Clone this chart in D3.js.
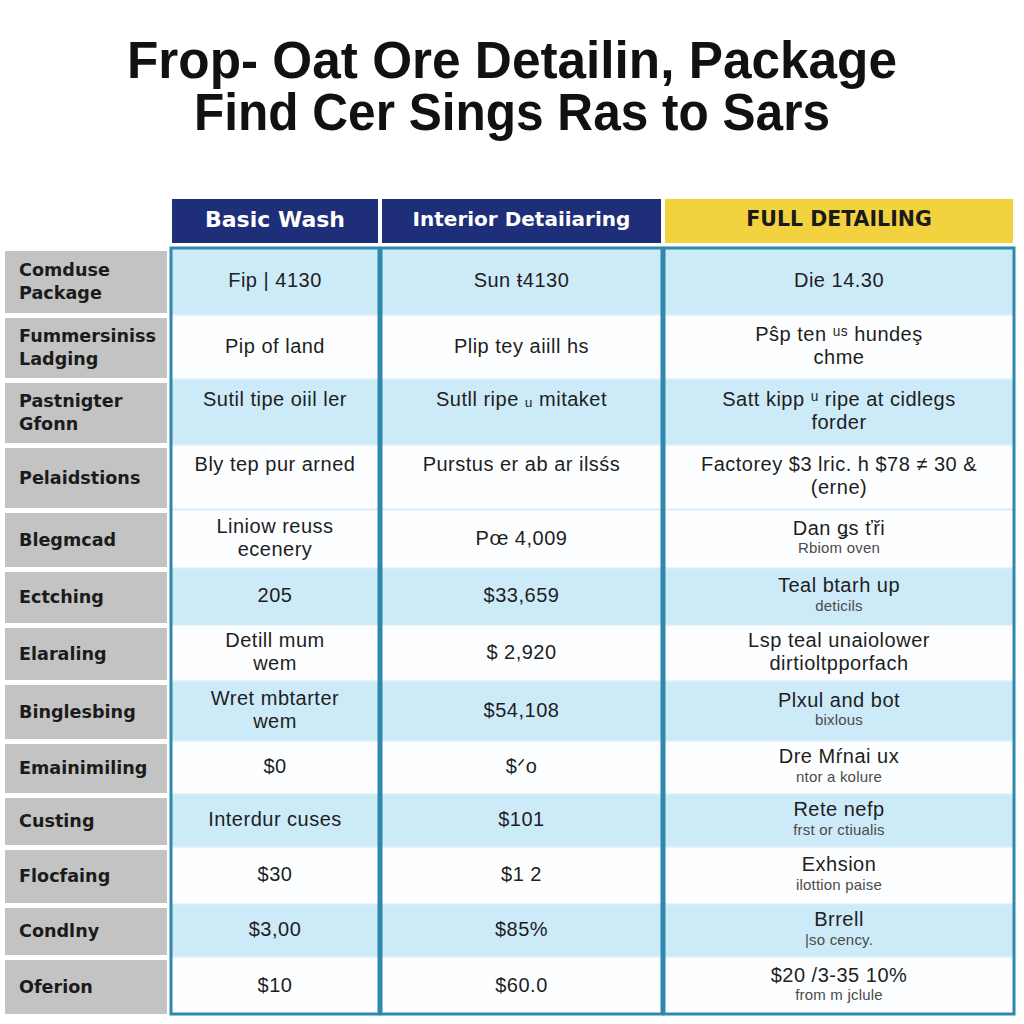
<!DOCTYPE html>
<html><head><meta charset="utf-8">
<script src="https://cdn.jsdelivr.net/npm/d3@7"></script>
<style>body{margin:0;background:#fff}svg{display:block}</style>
</head><body>
<svg id="chart" width="1024" height="1024"></svg>
<script>
// ---------- data ----------
const titleLines = ["Frop- Oat Ore Detailin, Package", "Find Cer Sings Ras to Sars"];
const packages = ["Basic Wash", "Interior Detaiiaring", "FULL DETAILING"];
const features = [
  ["Comduse", "Package"], ["Fummersiniss", "Ladging"], ["Pastnigter", "Gfonn"],
  ["Pelaidstions"], ["Blegmcad"], ["Ectching"], ["Elaraling"], ["Binglesbing"],
  ["Emainimiling"], ["Custing"], ["Flocfaing"], ["Condlny"], ["Oferion"]
];
const basicWash = [
  ["Fip | 4130"], ["Pip of land"], ["Sutil tipe oiil ler", ""], ["Bly tep pur arned", ""],
  ["Liniow reuss", "ecenery"], ["205"], ["Detill mum", "wem"], ["Wret mbtarter", "wem"],
  ["$0"], ["Interdur cuses"], ["$30"], ["$3,00"], ["$10"]
];
const interiorDetailing = [
  ["Sun ŧ4130"], ["Plip tey aiill hs"], ["Sutll ripe ᵤ mitaket", ""], ["Purstus er ab ar ilsśs", ""],
  ["Pœ 4,009"], ["$33,659"], ["$ 2,920"], ["$54,108"],
  ["$ᐟo"], ["$101"], ["$1 2"], ["$85%"], ["$60.0"]
];
const fullDetailing = [
  ["Die 14.30"], ["Pŝp ten ᵘˢ hundeş", "chme"], ["Satt kipp ᵘ ripe at cidlegs", "forder"],
  ["Factorey $3 lric. h $78 ≠ 30 &", "(erne)"], ["Dan ǥs ťři"], ["Teal btarh up"],
  ["Lsp teal unaiolower", "dirtioltpporfach"], ["Plxul and bot"], ["Dre Mŕnai ux"],
  ["Rete nefp"], ["Exhsion"], ["Brrell"], ["$20 /3-35 10%"]
];
const fullDetailingNotes = [
  "", "", "", "", "Rbiom oven", "deticils", "", "bixlous", "ntor a kolure",
  "frst or ctiualis", "ilottion paise", "|so cency.", "from m jclule"
];
const shadedRows = [true, false, true, false, false, true, false, true, false, true, false, true, false];

// ---------- layout ----------
const rowUnits = [67, 65, 65, 65, 59, 56, 57, 59, 54, 52, 58, 52, 59];
const colUnits = [210, 283, 352];
const svg = d3.select("#chart");

const cumRows = [0]; rowUnits.forEach(u => cumRows.push(cumRows[cumRows.length - 1] + u));
const y = d3.scaleLinear().domain([0, cumRows[cumRows.length - 1]]).range([247, 1015]);
const cumCols = [0]; colUnits.forEach(u => cumCols.push(cumCols[cumCols.length - 1] + u));
const x = d3.scaleLinear().domain([0, cumCols[cumCols.length - 1]]).range([170, 1015]);

// title
svg.append("g").selectAll("text").data(titleLines).join("text")
  .attr("x", 512).attr("y", (d, i) => 78 + i * 52)
  .attr("text-anchor", "middle")
  .attr("font-family", "'Liberation Sans Narrow','Liberation Sans',Arial,sans-serif")
  .attr("font-weight", "bold").attr("font-size", 51).attr("fill", "#111")
  .attr("textLength", (d, i) => i === 0 ? 770 : 636).attr("lengthAdjust", "spacingAndGlyphs")
  .text(d => d);

// headers
const headerFill = ["#1f2e78", "#1f2e78", "#f2d23e"];
const headerText = ["#ffffff", "#ffffff", "#1a1a1a"];
const headerSize = [22, 20, 20.5];
const hg = svg.append("g").selectAll("g").data(packages).join("g");
hg.append("rect")
  .attr("x", (d, i) => x(cumCols[i]) + 2).attr("y", 199)
  .attr("width", (d, i) => x(cumCols[i + 1]) - x(cumCols[i]) - 4).attr("height", 44)
  .attr("fill", (d, i) => headerFill[i]);
hg.append("text")
  .attr("x", (d, i) => (x(cumCols[i]) + x(cumCols[i + 1])) / 2).attr("y", 219)
  .attr("text-anchor", "middle").attr("dominant-baseline", "central")
  .attr("font-family", "'DejaVu Sans',Verdana,sans-serif").attr("font-weight", "bold")
  .attr("font-size", (d, i) => headerSize[i]).attr("fill", (d, i) => headerText[i])
  .text(d => d);

// row backgrounds
const rows = d3.range(features.length);
svg.append("g").selectAll("rect").data(rows).join("rect")
  .attr("x", x(0)).attr("y", i => y(cumRows[i]))
  .attr("width", x(cumCols[3]) - x(0)).attr("height", i => y(cumRows[i + 1]) - y(cumRows[i]))
  .attr("fill", i => shadedRows[i] ? "#cdeaf8" : "#fdfeff");
svg.append("g").selectAll("line").data(rows.slice(1)).join("line")
  .attr("x1", x(0)).attr("x2", x(cumCols[3]))
  .attr("y1", i => y(cumRows[i]) + 0.5).attr("y2", i => y(cumRows[i]) + 0.5)
  .attr("stroke", "#d6ecf7").attr("stroke-width", 2);

// row labels
const lg = svg.append("g").selectAll("g").data(features).join("g");
lg.append("rect")
  .attr("x", 5).attr("y", (d, i) => y(cumRows[i]) + 4)
  .attr("width", 162).attr("height", (d, i) => y(cumRows[i + 1]) - y(cumRows[i]) - 5)
  .attr("fill", "#c3c3c3");
lg.append("text")
  .attr("font-family", "'DejaVu Sans',Verdana,sans-serif").attr("font-weight", "bold")
  .attr("font-size", 17.6).attr("fill", "#1b1b1b")
  .each(function (d, i) {
    const cy = (y(cumRows[i]) + y(cumRows[i + 1])) / 2 + 1;
    d3.select(this).selectAll("tspan").data(d).join("tspan")
      .attr("x", 19)
      .attr("y", (t, k) => cy + (k - (d.length - 1) / 2) * 23)
      .attr("dominant-baseline", "central")
      .text(t => t);
  });

// cells
const columns = [basicWash, interiorDetailing, fullDetailing];
const cellFont = "'Liberation Sans',Arial,sans-serif";
columns.forEach((col, c) => {
  const cx = (x(cumCols[c]) + x(cumCols[c + 1])) / 2;
  const g = svg.append("g");
  col.forEach((lines, r) => {
    const note = c === 2 ? fullDetailingNotes[r] : "";
    const items = lines.map(t => ({ t, note: false }));
    if (note) items.push({ t: note, note: true });
    const cy = (y(cumRows[r]) + y(cumRows[r + 1])) / 2 - 1;
    const n = items.length;
    const step = (n > 1 && items[1].note) ? 20 : 23;
    const txt = g.append("text")
      .attr("text-anchor", "middle")
      .attr("font-family", cellFont);
    txt.selectAll("tspan").data(items).join("tspan")
      .attr("x", cx)
      .attr("y", (d, k) => cy + (k - (n - 1) / 2) * step)
      .attr("dominant-baseline", "central")
      .attr("font-size", d => d.note ? 15 : 20)
      .attr("letter-spacing", d => d.note ? 0.2 : 0.5)
      .attr("fill", d => d.note ? "#4a4a4a" : "#1e1e1e")
      .text(d => d.t);
  });
});

// column borders
svg.append("g").selectAll("rect").data(colUnits).join("rect")
  .attr("x", (d, i) => x(cumCols[i]) + 1).attr("y", 248)
  .attr("width", (d, i) => x(cumCols[i + 1]) - x(cumCols[i]) - 2).attr("height", 1014 - 248)
  .attr("fill", "none").attr("stroke", "#2f88ad").attr("stroke-width", 3);
</script>
</body></html>
